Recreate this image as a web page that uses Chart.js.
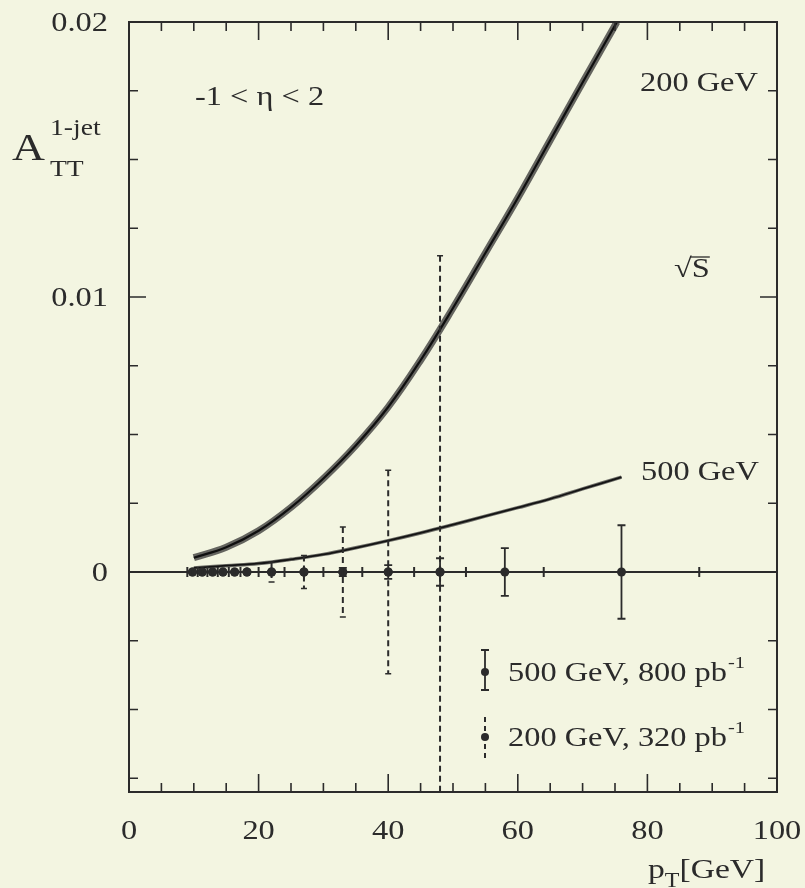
<!DOCTYPE html>
<html>
<head>
<meta charset="utf-8">
<script src="https://cdn.jsdelivr.net/npm/chart.js@4.4.1/dist/chart.umd.min.js"></script>
<style>
  html, body { margin: 0; padding: 0; background: #f3f5e1; }
  canvas { display: block; }
</style>
</head>
<body>
<canvas id="chartAtt" width="805" height="888"></canvas>
<script>
// theory curves A_TT(pT)
const curve200X = [10, 15, 20, 25, 30, 35, 40, 45, 50, 55, 60, 65, 70, 75.3];
const curve200Y = [0.00052, 0.0009, 0.0015, 0.00235, 0.0034, 0.0046, 0.006, 0.0077, 0.0096, 0.0116, 0.0136, 0.0157, 0.0178, 0.02];
const curve500X = [10, 15, 20, 25, 30, 35, 40, 45, 50, 55, 60, 65, 70, 76];
const curve500Y = [0.00015, 0.00023, 0.00031, 0.00046, 0.00064, 0.00088, 0.00114, 0.00142, 0.00172, 0.00203, 0.00234, 0.00266, 0.00302, 0.00345];

// expected stat. errors, points sit at zero
const pts500X = [9.8, 11.3, 12.9, 14.5, 16.3, 18.2, 22, 27, 33, 40, 48, 58, 76];
const pts500Err = [0.00005, 0.00005, 0.00005, 0.00006, 0.00006, 0.00007, 0.00008, 0.0001, 0.00015, 0.00025, 0.0005, 0.00087, 0.0017];
const pts200X = [9.8, 11.3, 12.9, 14.5, 16.3, 18.2, 22, 27, 33, 40, 48];
const pts200Err = [0.00006, 0.00007, 0.00008, 0.0001, 0.00012, 0.00016, 0.00036, 0.0006, 0.00164, 0.0037, 0.0115];
const binEdges = [9, 10.6, 12.1, 13.7, 15.4, 17.2, 20, 24, 30, 36, 44, 52, 64, 88];

const xTickLabels = [0, 20, 40, 60, 80, 100];
const yTickLabels = [0, 0.01, 0.02];

const ink = '#2b2b2b';
const bg = '#f3f5e1';
const serif = '"Liberation Serif", "Times New Roman", serif';
const SX = 1.2; // the scan's lettering is a bit wide

function txt(ctx, s, x, y, size, align) {
    ctx.save();
    ctx.font = size + 'px ' + serif;
    ctx.textBaseline = 'alphabetic';
    const w = ctx.measureText(s).width * SX;
    const x0 = align === 'right' ? x - w : align === 'center' ? x - w / 2 : x;
    ctx.translate(x0, y);
    ctx.scale(SX, 1);
    ctx.fillStyle = ink;
    ctx.fillText(s, 0, 0);
    ctx.restore();
    return x0 + w;
}

const toXY = (xs, ys) => xs.map((v, i) => ({ x: v, y: ys[i] }));

const backdrop = {
    id: 'backdrop',
    beforeDraw(chart) {
        const ctx = chart.ctx;
        ctx.save();
        ctx.fillStyle = bg;
        ctx.fillRect(0, 0, chart.width, chart.height);
        ctx.restore();
    },
    beforeDatasetsDraw(chart) {
        const { ctx, chartArea: a, scales: { y } } = chart;
        const py = y.getPixelForValue(0);
        ctx.save();
        ctx.strokeStyle = ink;
        ctx.lineWidth = 2;
        ctx.beginPath();
        ctx.moveTo(a.left, py);
        ctx.lineTo(a.right, py);
        ctx.stroke();
        ctx.restore();
    }
};

const errorBars = {
    id: 'errorBars',
    afterDatasetsDraw(chart) {
        const { ctx, chartArea: a, scales: { x, y } } = chart;
        ctx.save();
        ctx.beginPath();
        ctx.rect(a.left, a.top, a.right - a.left, a.bottom - a.top);
        ctx.clip();
        ctx.strokeStyle = ink;

        // 200 GeV: dashed
        pts200X.forEach((v, i) => {
            const px = x.getPixelForValue(v);
            const top = y.getPixelForValue(pts200Err[i]);
            const bot = y.getPixelForValue(-pts200Err[i]);
            ctx.lineWidth = 2;
            ctx.setLineDash([6, 4]);
            ctx.beginPath();
            ctx.moveTo(px, top);
            ctx.lineTo(px, bot);
            ctx.stroke();
            ctx.setLineDash([]);
            if (bot - top > 12) {
                ctx.lineWidth = 1.5;
                ctx.beginPath();
                ctx.moveTo(px - 3, top); ctx.lineTo(px + 3, top);
                ctx.moveTo(px - 3, bot); ctx.lineTo(px + 3, bot);
                ctx.stroke();
            }
        });

        // 500 GeV: solid with caps
        ctx.lineWidth = 1.8;
        pts500X.forEach((v, i) => {
            const px = x.getPixelForValue(v);
            const top = y.getPixelForValue(pts500Err[i]);
            const bot = y.getPixelForValue(-pts500Err[i]);
            ctx.beginPath();
            ctx.moveTo(px, top);
            ctx.lineTo(px, bot);
            if (bot - top > 8) {
                ctx.moveTo(px - 4, top); ctx.lineTo(px + 4, top);
                ctx.moveTo(px - 4, bot); ctx.lineTo(px + 4, bot);
            }
            ctx.stroke();
        });
        ctx.restore();
    }
};

const frame = {
    id: 'frame',
    afterDraw(chart) {
        const { ctx, chartArea: a, scales: { x, y } } = chart;
        ctx.save();
        ctx.strokeStyle = ink;
        ctx.lineWidth = 2;
        ctx.strokeRect(a.left, a.top, a.right - a.left, a.bottom - a.top);

        ctx.lineWidth = 1.6;
        ctx.beginPath();
        for (let v = 0; v <= 100; v += 5) {
            const px = x.getPixelForValue(v);
            const len = v % 20 === 0 ? 18 : 9;
            ctx.moveTo(px, a.bottom); ctx.lineTo(px, a.bottom - len);
            ctx.moveTo(px, a.top); ctx.lineTo(px, a.top + len);
        }
        for (let i = -3; i <= 8; i++) {
            const py = y.getPixelForValue(i * 0.0025);
            const len = i % 4 === 0 ? 17 : 9;
            ctx.moveTo(a.left, py); ctx.lineTo(a.left + len, py);
            ctx.moveTo(a.right, py); ctx.lineTo(a.right - len, py);
        }
        ctx.stroke();

        // tick labels
        xTickLabels.forEach(v => txt(ctx, String(v), x.getPixelForValue(v), a.bottom + 47, 27, 'center'));
        yTickLabels.forEach(v => txt(ctx, String(v), a.left - 21, y.getPixelForValue(v) + 9, 27, 'right'));

        // axis titles
        let cx = txt(ctx, 'A', 12, 160, 38, 'left');
        txt(ctx, '1-jet', 50, 135, 23, 'left');
        txt(ctx, 'TT', 50, 176, 23, 'left');

        cx = txt(ctx, 'p', 648, 878, 28, 'left');
        cx = txt(ctx, 'T', cx, 887, 20, 'left');
        txt(ctx, '[GeV]', cx, 878, 28, 'left');

        // annotations
        txt(ctx, '-1 < \u03b7 < 2', 195, 105, 27, 'left');
        txt(ctx, '200 GeV', 640, 91, 27, 'left');
        txt(ctx, '500 GeV', 641, 480, 27, 'left');
        cx = txt(ctx, '\u221a', 674, 277, 27, 'left');
        const sEnd = txt(ctx, 'S', cx, 277, 27, 'left');
        ctx.lineWidth = 1.3;
        ctx.beginPath();
        ctx.moveTo(cx - 1, 257); ctx.lineTo(sEnd, 257);
        ctx.stroke();

        // legend
        const lx = 485;
        ctx.lineWidth = 1.8;
        ctx.beginPath();
        ctx.moveTo(lx, 650); ctx.lineTo(lx, 690);
        ctx.moveTo(lx - 4, 650); ctx.lineTo(lx + 4, 650);
        ctx.moveTo(lx - 4, 690); ctx.lineTo(lx + 4, 690);
        ctx.stroke();
        ctx.setLineDash([5, 4]);
        ctx.lineWidth = 2;
        ctx.beginPath();
        ctx.moveTo(lx, 717); ctx.lineTo(lx, 758);
        ctx.stroke();
        ctx.setLineDash([]);
        ctx.fillStyle = ink;
        [672, 737].forEach(py => {
            ctx.beginPath();
            ctx.arc(lx, py, 4, 0, Math.PI * 2);
            ctx.fill();
        });
        cx = txt(ctx, '500 GeV, 800 pb', 508, 681, 27, 'left');
        txt(ctx, '-1', cx + 1, 668, 17, 'left');
        cx = txt(ctx, '200 GeV, 320 pb', 508, 746, 27, 'left');
        txt(ctx, '-1', cx + 1, 733, 17, 'left');
        ctx.restore();
    }
};

const lineDs = (xs, ys, width, color) => ({
    data: toXY(xs, ys),
    showLine: true,
    borderColor: color,
    borderWidth: width,
    pointRadius: 0,
    tension: 0.4,
    fill: false
});

new Chart(document.getElementById('chartAtt').getContext('2d'), {
    type: 'scatter',
    data: {
        datasets: [
            {
                data: pts500X.map(v => ({ x: v, y: 0 })),
                pointRadius: 4.5, backgroundColor: ink, borderWidth: 0
            },
            {
                data: pts200X.map(v => ({ x: v, y: 0 })),
                pointRadius: 4.5, backgroundColor: ink, borderWidth: 0
            },
            {
                data: binEdges.map(v => ({ x: v, y: 0 })),
                pointStyle: 'line', rotation: 90, pointRadius: 5,
                borderColor: ink, borderWidth: 2
            },
            lineDs(curve200X, curve200Y, 2.2, '#0f0f0f'),
            lineDs(curve500X, curve500Y, 1.8, '#141414'),
            lineDs(curve200X, curve200Y, 7, 'rgba(45,45,45,0.72)'),
            lineDs(curve500X, curve500Y, 3.5, 'rgba(50,50,50,0.7)')
        ]
    },
    options: {
        responsive: false,
        animation: false,
        layout: { padding: { left: 129, right: 28, top: 22, bottom: 96 } },
        plugins: { legend: { display: false }, tooltip: { enabled: false } },
        scales: {
            x: { type: 'linear', min: 0, max: 100, display: false },
            y: { type: 'linear', min: -0.008, max: 0.02, display: false }
        }
    },
    plugins: [backdrop, errorBars, frame]
});
</script>
</body>
</html>
